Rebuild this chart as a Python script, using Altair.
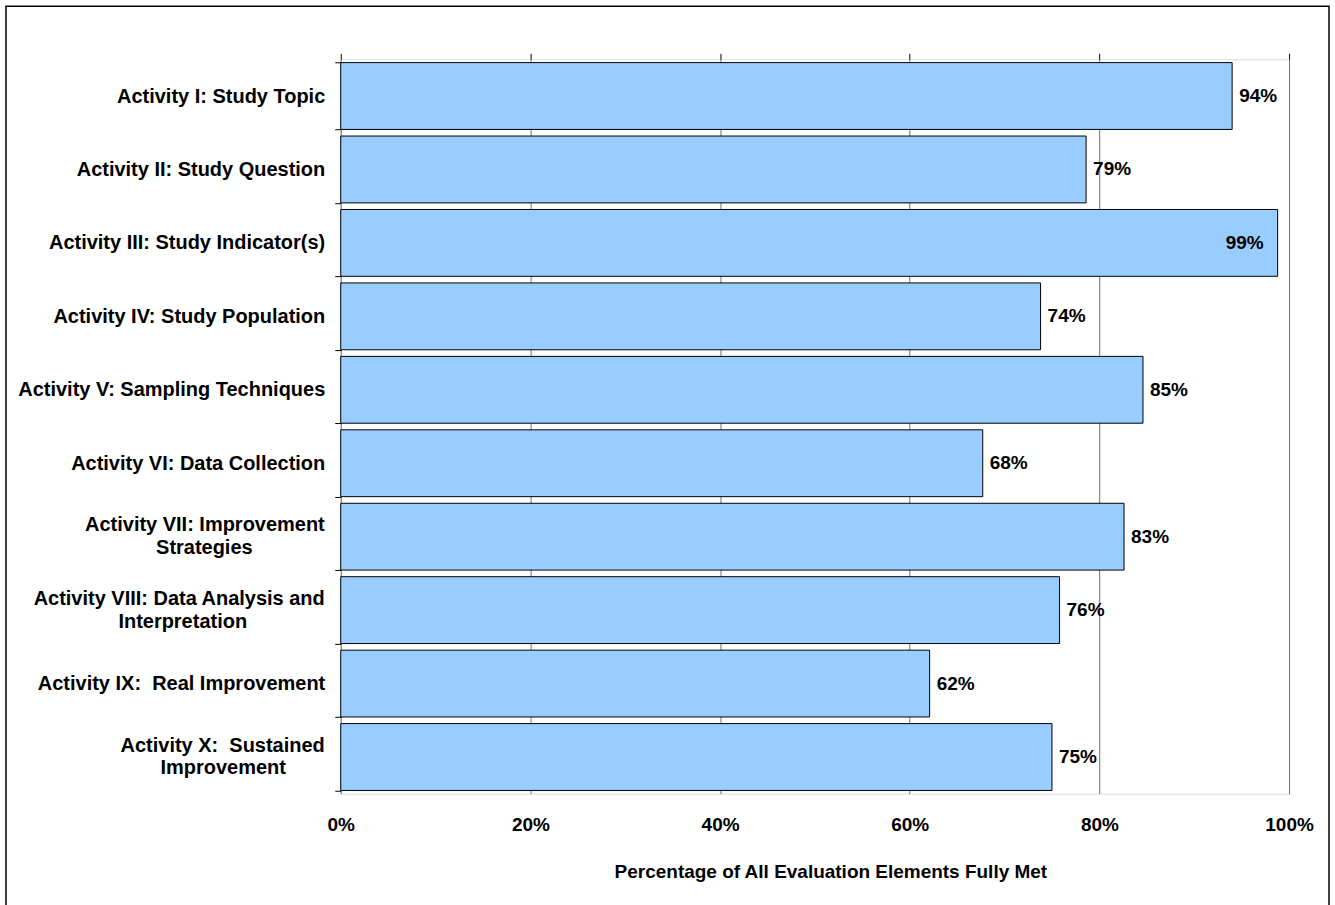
import altair as alt
import pandas as pd

categories = [
    "Activity I: Study Topic",
    "Activity II: Study Question",
    "Activity III: Study Indicator(s)",
    "Activity IV: Study Population",
    "Activity V: Sampling Techniques",
    "Activity VI: Data Collection",
    "Activity VII: Improvement\nStrategies",
    "Activity VIII: Data Analysis and\nInterpretation",
    "Activity IX:  Real Improvement",
    "Activity X:  Sustained\nImprovement",
]
values = [0.940, 0.786, 0.988, 0.738, 0.846, 0.677, 0.826, 0.758, 0.621, 0.750]
x_ticks = [0, 0.2, 0.4, 0.6, 0.8, 1.0]

NBSP = "\u00a0"
ZWNJ = "\u200c"
# trailing no-break spaces to centre the shorter second line under the first
second_line_pad = {6: 13, 7: 14, 9: 7}


def display_label(i, text):
    text = text.replace("  ", " " + NBSP)
    if "\n" in text:
        first, second = text.split("\n")
        text = first + "\n" + second + NBSP * second_line_pad.get(i, 0) + ZWNJ
    return text


labels = [display_label(i, c) for i, c in enumerate(categories)]
df = pd.DataFrame({"cat": labels, "value": values})

FONT = "Arial, Liberation Sans, sans-serif"
LABEL_SIZE = 20

y_enc = alt.Y(
    "cat:N",
    sort=labels,
    title=None,
    scale=alt.Scale(paddingInner=0.09, paddingOuter=0.045),
    axis=alt.Axis(
        labelExpr="indexof(datum.label, '\\n') >= 0 ? '' : datum.label",
        labelPadding=10,
        labelLimit=400,
        tickBand="extent",
        tickSize=6,
        tickColor="black",
        domain=False,
        labelFontSize=LABEL_SIZE,
        labelFont=FONT,
        labelFontWeight="bold",
        labelColor="black",
    ),
)

x_scale = alt.Scale(domain=[0, 1], nice=False)

bars = alt.Chart(df).mark_bar(
    color="#99CCFF", stroke="black", strokeWidth=1
).encode(
    x=alt.X(
        "value:Q",
        scale=x_scale,
        title="Percentage of All Evaluation Elements Fully Met",
        axis=alt.Axis(
            orient="bottom",
            values=x_ticks,
            format=".0%",
            ticks=False,
            domain=False,
            grid=True,
            gridColor="#707070",
            gridWidth=1,
            labelFlush=False,
            labelPadding=22,
            labelFontSize=19,
            labelFont=FONT,
            labelFontWeight="bold",
            labelColor="black",
            titleFontSize=19,
            titleFont=FONT,
            titleFontWeight="bold",
            titleColor="black",
            titlePadding=28,
            titleX=490,
            titleAlign="center",
        ),
    ),
    y=y_enc,
)

# two-line category labels, centred vertically on their band
multi_labels = alt.Chart(df).transform_filter(
    "indexof(datum.cat, '\\n') >= 0"
).mark_text(
    align="right", baseline="middle", dy=-11.5, lineBreak="\n", lineHeight=23,
    fontSize=LABEL_SIZE, font=FONT, fontWeight="bold", color="black"
).encode(
    x=alt.value(-16),
    y=alt.Y("cat:N", sort=labels),
    text="cat:N",
)

text_out = alt.Chart(df).transform_filter("datum.value < 0.95").mark_text(
    align="left", baseline="middle", dx=7, fontSize=19, font=FONT,
    fontWeight="bold", color="black"
).encode(
    x=alt.X(
        "value:Q",
        scale=x_scale,
        axis=alt.Axis(
            orient="top", values=x_ticks, labels=False, ticks=True,
            tickSize=6, tickColor="black", domain=False, grid=False, title=None,
        ),
    ),
    y=alt.Y("cat:N", sort=labels),
    text=alt.Text("value:Q", format=".0%"),
)

text_in = alt.Chart(df).transform_filter("datum.value >= 0.95").mark_text(
    align="right", baseline="middle", dx=-14, fontSize=19, font=FONT,
    fontWeight="bold", color="black"
).encode(
    x=alt.X("value:Q", scale=x_scale, axis=None),
    y=alt.Y("cat:N", sort=labels),
    text=alt.Text("value:Q", format=".0%"),
)

frame = alt.Chart(pd.DataFrame({"a": [0]})).mark_rect(
    fillOpacity=0, stroke="black", strokeWidth=1.5
).encode(
    x=alt.value(-335), x2=alt.value(989), y=alt.value(-53), y2=alt.value(850)
)

chart = alt.layer(bars, multi_labels, text_out, text_in, frame).properties(
    width=949, height=735,
    padding={"left": 5, "top": 5, "right": 5, "bottom": 0},
).configure_view(stroke="black", strokeWidth=1).configure(background="white")

chart.save("out.html", embed_options={"renderer": "svg", "actions": False})
